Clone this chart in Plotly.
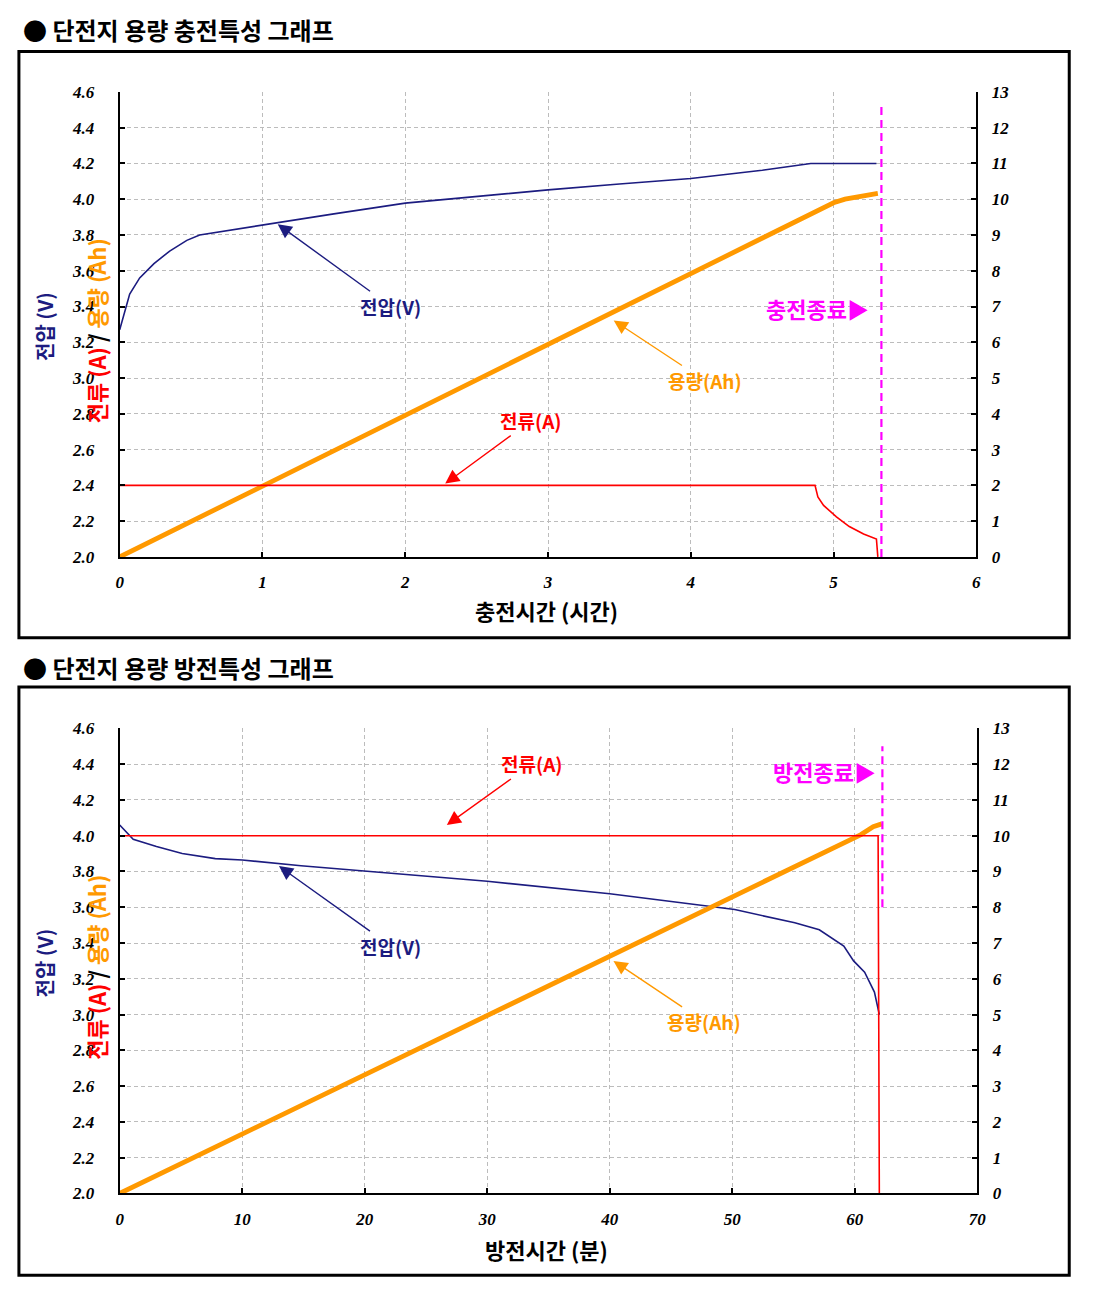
import plotly.graph_objects as go

# ---------------- data: charge (hours) ----------------
chg_time_v = [0, 0.03, 0.07, 0.14, 0.24, 0.35, 0.47, 0.56, 0.7, 1.0, 1.5, 2.0, 2.5, 3.0, 3.5, 4.0, 4.5, 4.84, 5.30]
chg_voltage = [3.27, 3.36, 3.47, 3.56, 3.64, 3.71, 3.77, 3.80, 3.818, 3.857, 3.918, 3.978, 4.017, 4.052, 4.085, 4.116, 4.162, 4.2, 4.2]

chg_time_i = [0, 4.87, 4.89, 4.93, 5.02, 5.11, 5.21, 5.30, 5.31]
chg_current = [2.0, 2.0, 1.68, 1.44, 1.12, 0.85, 0.64, 0.50, 0.0]

chg_time_c = [0, 1, 2, 3, 4, 4.75, 4.9, 5.0, 5.08, 5.16, 5.25, 5.31]
chg_capacity = [0, 1.98, 3.96, 5.94, 7.92, 9.40, 9.70, 9.90, 10.0, 10.07, 10.12, 10.16]

chg_end_time = 5.335
chg_end_span = [0, 12.6]

# ---------------- data: discharge (minutes) ----------------
dis_time_v = [0, 1.1, 3.0, 5.1, 7.8, 10, 14.8, 19.9, 22.8, 30, 40, 47.0, 50.2, 55.1, 57.1, 59.1, 59.9, 60.8, 61.6, 62.0]
dis_voltage = [4.06, 3.98, 3.94, 3.90, 3.872, 3.864, 3.832, 3.804, 3.786, 3.745, 3.675, 3.615, 3.587, 3.513, 3.474, 3.383, 3.30, 3.237, 3.126, 3.0]

dis_time_i = [0, 61.9, 62.0]
dis_current = [10, 10, 0]

dis_time_c = [0, 10, 20, 30, 40, 50, 60.5, 61.5, 62.2]
dis_capacity = [0, 1.66, 3.32, 4.97, 6.63, 8.29, 10.03, 10.25, 10.33]

dis_end_time = 62.25
dis_end_span = [8, 12.5]

# axis ranges
left_range = [2.0, 4.6]
right_range = [0, 13]
chg_x_range = [0, 6]
dis_x_range = [0, 70]

PAGE_W, PAGE_H = 1106, 1307
BODY = 8  # default browser body margin
W, H = PAGE_W - 2 * BODY, PAGE_H - 2 * BODY

NAVY = "#1c1c80"
RED = "#ff0000"
ORANGE = "#ff9900"
MAGENTA = "#ff00ff"
GRID = "#bcbcbc"


def xp(px):
    return (px - BODY) / W


def yp(py):
    return 1 - (py - BODY) / H


fig = go.Figure()

# top chart traces
fig.add_trace(go.Scatter(x=chg_time_v, y=chg_voltage, mode="lines", line=dict(color=NAVY, width=1.6),
                         xaxis="x", yaxis="y", showlegend=False))
fig.add_trace(go.Scatter(x=chg_time_c, y=chg_capacity, mode="lines", line=dict(color=ORANGE, width=4.8),
                         xaxis="x", yaxis="y2", showlegend=False))
fig.add_trace(go.Scatter(x=chg_time_i, y=chg_current, mode="lines", line=dict(color=RED, width=1.6),
                         xaxis="x", yaxis="y2", showlegend=False))
fig.add_trace(go.Scatter(x=[chg_end_time, chg_end_time], y=chg_end_span, mode="lines",
                         line=dict(color=MAGENTA, width=2.2, dash="8px,5px"),
                         xaxis="x", yaxis="y2", showlegend=False))

# bottom chart traces
fig.add_trace(go.Scatter(x=dis_time_c, y=dis_capacity, mode="lines", line=dict(color=ORANGE, width=4.8),
                         xaxis="x2", yaxis="y4", showlegend=False))
fig.add_trace(go.Scatter(x=dis_time_v, y=dis_voltage, mode="lines", line=dict(color=NAVY, width=1.6),
                         xaxis="x2", yaxis="y3", showlegend=False))
fig.add_trace(go.Scatter(x=dis_time_i, y=dis_current, mode="lines", line=dict(color=RED, width=1.6),
                         xaxis="x2", yaxis="y4", showlegend=False))
fig.add_trace(go.Scatter(x=[dis_end_time, dis_end_time], y=dis_end_span, mode="lines",
                         line=dict(color=MAGENTA, width=2.2, dash="8px,5px"),
                         xaxis="x2", yaxis="y4", showlegend=False))

tickfont = dict(family="Liberation Serif", size=17, color="black", weight="bold", style="italic")

common_x = dict(showgrid=True, gridcolor=GRID, griddash="4px,3px", gridwidth=1,
                showline=True, linecolor="black", linewidth=2, ticks="inside", ticklen=5,
                tickcolor="black", tickwidth=1.5, tickfont=tickfont, zeroline=False,
                ticklabelstandoff=9)
common_yl = dict(showgrid=True, gridcolor=GRID, griddash="4px,3px", gridwidth=1,
                 showline=True, linecolor="black", linewidth=2, ticks="inside", ticklen=5,
                 tickcolor="black", tickwidth=1.5, tickfont=tickfont, zeroline=False,
                 range=left_range, dtick=0.2, tick0=2.0, tickformat=".1f", ticklabelstandoff=20)
common_yr = dict(showgrid=False, showline=True, linecolor="black", linewidth=2, ticks="inside",
                 ticklen=5, tickcolor="black", tickwidth=1.5, tickfont=tickfont, zeroline=False,
                 range=right_range, dtick=1, tick0=0, side="right", ticklabelstandoff=10)

top_x = [xp(117), xp(984)]
top_y = [yp(556), yp(84)]
bot_x = [xp(117), xp(985)]
bot_y = [yp(1202), yp(730)]

fig.update_layout(
    width=W, height=H,
    margin=dict(l=0, r=0, t=0, b=0),
    paper_bgcolor="white", plot_bgcolor="white",
    xaxis=dict(common_x, domain=top_x, range=chg_x_range, dtick=1, anchor="y"),
    yaxis=dict(common_yl, domain=top_y, anchor="x"),
    yaxis2=dict(common_yr, overlaying="y", anchor="x"),
    xaxis2=dict(common_x, domain=bot_x, range=dis_x_range, dtick=10, anchor="y3"),
    yaxis3=dict(common_yl, domain=bot_y, anchor="x2"),
    yaxis4=dict(common_yr, overlaying="y3", anchor="x2"),
)

KFONT = "Noto Sans CJK KR"
ann = []

# section titles
for txt, py in [("● 단전지 용량 충전특성 그래프", 21), ("● 단전지 용량 방전특성 그래프", 668)]:
    ann.append(dict(text=f"<b>{txt}</b>", xref="paper", yref="paper", x=xp(17), y=yp(py),
                    xanchor="left", yanchor="middle", showarrow=False,
                    font=dict(family=KFONT, size=24, color="black")))

# axis titles
for py_c, ttl in [(610, "충전시간 (시간)"), (1258, "방전시간 (분)")]:
    ann.append(dict(text=f"<b>{ttl}</b>", xref="paper", yref="paper", x=xp(549), y=yp(py_c),
                    xanchor="center", yanchor="middle", showarrow=False,
                    font=dict(family=KFONT, size=22, color="black")))

mixed = (f"<b><span style='color:{RED}'>전류 (A)</span> <span style='color:black'>/</span> "
         f"<span style='color:{ORANGE}'>용량 (Ah)</span></b>")
for pyc in [(84 + 556) / 2 + 6, (730 + 1202) / 2 + 6]:
    ann.append(dict(text=f"<b>전압 (V)</b>", xref="paper", yref="paper", x=xp(41), y=yp(pyc - 4),
                    xanchor="center", yanchor="middle", showarrow=False, textangle=-90,
                    font=dict(family=KFONT, size=20, color=NAVY)))
    ann.append(dict(text=mixed, xref="paper", yref="paper", x=xp(93), y=yp(pyc),
                    xanchor="center", yanchor="middle", showarrow=False, textangle=-90,
                    font=dict(family=KFONT, size=22, color=RED)))


def arrow(text, color, x, y, xref, yref, ax, ay):
    return dict(text=f"<b>{text}</b>", x=x, y=y, xref=xref, yref=yref, ax=ax, ay=ay,
                showarrow=True, arrowhead=2, arrowsize=2.0, arrowwidth=1.4, arrowcolor=color,
                font=dict(family=KFONT, size=19, color=color))


# top chart callouts
ann.append(arrow("전압(V)", NAVY, 1.107, 3.86, "x", "y", 113, 82))
ann.append(arrow("용량(Ah)", ORANGE, 3.46, 6.61, "x", "y2", 91, 60))
ann.append(arrow("전류(A)", RED, 2.28, 2.05, "x", "y2", 86, -63))
ann.append(dict(text="<b>충전종료▶</b>", xref="paper", yref="paper", x=xp(823), y=yp(303),
                xanchor="center", yanchor="middle", showarrow=False,
                font=dict(family=KFONT, size=22, color=MAGENTA)))

# bottom chart callouts
ann.append(arrow("전류(A)", RED, 26.7, 10.3, "x2", "y4", 85, -61))
ann.append(arrow("전압(V)", NAVY, 13.0, 3.83, "x2", "y3", 112, 80))
ann.append(arrow("용량(Ah)", ORANGE, 40.3, 6.5, "x2", "y4", 91, 61))
ann.append(dict(text="<b>방전종료▶</b>", xref="paper", yref="paper", x=xp(830), y=yp(773),
                xanchor="center", yanchor="middle", showarrow=False,
                font=dict(family=KFONT, size=22, color=MAGENTA)))

fig.update_layout(annotations=ann)

# outer boxes
shapes = []
for (x0, y0, x1, y1) in [(15, 43, 1078, 638), (15, 688, 1078, 1285)]:
    shapes.append(dict(type="rect", xref="paper", yref="paper", x0=xp(x0), x1=xp(x1),
                       y0=yp(y1), y1=yp(y0), line=dict(color="black", width=3),
                       fillcolor="rgba(0,0,0,0)", layer="below"))
fig.update_layout(shapes=shapes)

fig.write_html("out.html", config={"displayModeBar": False})
